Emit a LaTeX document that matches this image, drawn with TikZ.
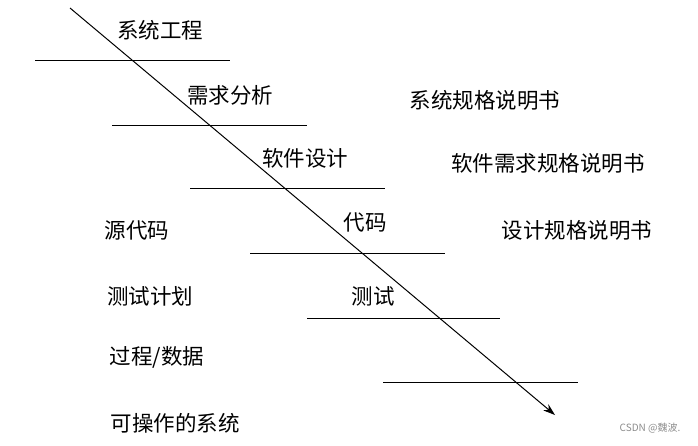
\documentclass[tikz,border=0pt]{standalone}
\usepackage{fontspec}
\setmainfont{Noto Sans CJK SC}
\usetikzlibrary{arrows.meta}
\begin{document}
\begin{tikzpicture}[
        x=1pt, y=-1pt,
        lbl/.style={inner sep=0pt, font=\fontsize{21.5}{24}\selectfont},
        stage/.style={draw, line width=1pt},
    ]
    \useasboundingbox (0,0) rectangle (698,445);
    % phases along the diagonal
    \foreach \name/\y/\xa/\xb/\lx/\ly/\txt in {
            sys/60/35/230/160/30/系统工程,
            req/125/112/307/230/95/需求分析,
            des/188/190/385/305/158/软件设计,
            cod/253/250/445/365/222/代码,
            tst/318/307/500/373/296/测试}
        {
        \node[lbl] (\name) at (\lx,\ly) {\txt};
        \coordinate (\name-l) at (\xa,\y);
        \coordinate (\name-r) at (\xb,\y);
        \path[stage] (\name-l) -- (\name-r);
        }
    \coordinate (end-l) at (383,382);
    \coordinate (end-r) at (578,382);
    \path[stage] (end-l) -- (end-r);
    % the flow
    \coordinate (start) at (70,8);
    \coordinate (stop) at (555,415);
    \draw[line width=1pt, -{Stealth[length=12pt,width=8pt]}] (start) -- (stop);
    % products
    \foreach \name/\lx/\ly/\txt in {
            p1/485/100/{系统规格说明书},
            p2/548/163/{软件需求规格说明书},
            p3/577/230/{设计规格说明书},
            q1/137/230/{源代码},
            q2/150/296/{测试计划},
            q3/157/357/{过程/数据},
            q4/175/423/{可操作的系统}}
        \node[lbl] (\name) at (\lx,\ly) {\txt};
    \node[inner sep=0pt, font=\fontsize{10}{12}\selectfont, text=black!45] (mark) at (650,428) {CSDN @魏波.};
\end{tikzpicture}
\end{document}
